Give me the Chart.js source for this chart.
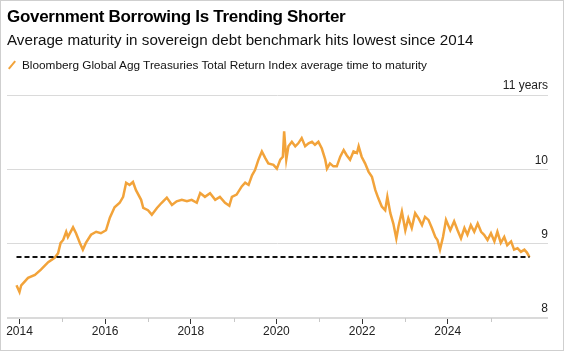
<!DOCTYPE html>
<html>
<head>
<meta charset="utf-8">
<script src="https://cdn.jsdelivr.net/npm/chart.js@4"></script>
<style>
  body { margin: 0; background: #fff; font-family: "Liberation Sans", Arial, sans-serif; }
  #frame { position: absolute; left: 0; top: 0; width: 564px; height: 351px; box-sizing: border-box; border: 1px solid #cfcfcf; pointer-events: none; z-index: 3; }
  #title { position: absolute; left: 7px; top: 7px; font-size: 17px; font-weight: bold; color: #000; letter-spacing: -0.3px; z-index: 2; }
  #subtitle { position: absolute; left: 7px; top: 31px; font-size: 15.2px; color: #111; z-index: 2; }
  #legend { position: absolute; left: 8px; top: 58px; font-size: 11.8px; color: #111; z-index: 2; }
  #legend .swatch { display: inline-block; width: 2px; height: 10px; background: #f2a33a; transform: rotate(40deg); margin: 0 9px 0 3px; vertical-align: -1px; }
  canvas { position: absolute; left: 0; top: 0; }
</style>
</head>
<body>
<div id="frame"></div>
<div id="title">Government Borrowing Is Trending Shorter</div>
<div id="subtitle">Average maturity in sovereign debt benchmark hits lowest since 2014</div>
<div id="legend"><span class="swatch"></span>Bloomberg Global Agg Treasuries Total Return Index average time to maturity</div>
<canvas id="myChart" width="564" height="351"></canvas>
<script>
// decimal year of each reading
const years = [
  2013.93, 2014.00, 2014.04, 2014.20, 2014.36, 2014.50, 2014.67, 2014.82, 2014.90, 2014.96,
  2015.02, 2015.09, 2015.13, 2015.25, 2015.32, 2015.41, 2015.48, 2015.55, 2015.67, 2015.79,
  2015.90, 2016.02, 2016.11, 2016.22, 2016.34, 2016.42, 2016.49, 2016.57, 2016.65, 2016.72,
  2016.84, 2016.89, 2017.00, 2017.09, 2017.21, 2017.32, 2017.44, 2017.56, 2017.67, 2017.79,
  2017.91, 2018.02, 2018.14, 2018.22, 2018.33, 2018.45, 2018.57, 2018.68, 2018.80, 2018.90,
  2018.96, 2019.07, 2019.19, 2019.27, 2019.35, 2019.43, 2019.50, 2019.58, 2019.66, 2019.74,
  2019.81, 2019.93, 2020.01, 2020.09, 2020.15, 2020.18, 2020.23, 2020.28, 2020.36, 2020.44,
  2020.51, 2020.59, 2020.67, 2020.75, 2020.83, 2020.90, 2020.98, 2021.06, 2021.14, 2021.18,
  2021.25, 2021.33, 2021.41, 2021.49, 2021.57, 2021.64, 2021.72, 2021.80, 2021.88, 2021.92,
  2021.99, 2022.07, 2022.15, 2022.23, 2022.31, 2022.38, 2022.46, 2022.54, 2022.59, 2022.66,
  2022.73, 2022.80, 2022.85, 2022.93, 2023.01, 2023.08, 2023.16, 2023.24, 2023.32, 2023.40,
  2023.47, 2023.55, 2023.63, 2023.71, 2023.76, 2023.82, 2023.89, 2023.96, 2024.06, 2024.15,
  2024.23, 2024.31, 2024.39, 2024.46, 2024.54, 2024.62, 2024.70, 2024.78, 2024.85, 2024.93,
  2025.01, 2025.09, 2025.16, 2025.24, 2025.32, 2025.39, 2025.48, 2025.55, 2025.63, 2025.71,
  2025.79, 2025.85, 2025.91
];

// average time to maturity, years
const maturity = [
  8.44, 8.35, 8.44, 8.54, 8.58, 8.65, 8.75, 8.81, 8.87, 9.01,
  9.05, 9.16, 9.09, 9.22, 9.14, 9.01, 8.92, 9.01, 9.12, 9.16,
  9.14, 9.18, 9.35, 9.49, 9.55, 9.63, 9.82, 9.79, 9.83, 9.72,
  9.59, 9.48, 9.45, 9.39, 9.48, 9.55, 9.62, 9.52, 9.57, 9.59,
  9.57, 9.59, 9.55, 9.68, 9.63, 9.68, 9.59, 9.63, 9.55, 9.51,
  9.63, 9.66, 9.77, 9.82, 9.79, 9.92, 9.99, 10.13, 10.24, 10.15,
  10.08, 10.06, 10.01, 10.13, 10.17, 10.51, 10.13, 10.31, 10.37, 10.31,
  10.35, 10.42, 10.31, 10.35, 10.37, 10.33, 10.37, 10.28, 10.13, 10.01,
  10.08, 10.04, 10.04, 10.17, 10.26, 10.19, 10.13, 10.24, 10.22, 10.31,
  10.17, 10.08, 9.97, 9.90, 9.72, 9.61, 9.50, 9.45, 9.63, 9.41,
  9.27, 9.07, 9.23, 9.43, 9.18, 9.34, 9.21, 9.41, 9.34, 9.25,
  9.36, 9.32, 9.21, 9.09, 9.05, 8.92, 9.09, 9.32, 9.18, 9.30,
  9.18, 9.07, 9.21, 9.12, 9.25, 9.16, 9.27, 9.16, 9.12, 9.05,
  9.14, 9.03, 9.16, 9.01, 9.09, 8.98, 9.03, 8.92, 8.94, 8.89,
  8.92, 8.88, 8.82
];

const latestLevel = 8.82;            // dashed reference line
const tickYears = [2014, 2015, 2016, 2017, 2018, 2019, 2020, 2021, 2022, 2023, 2024, 2025];
const yTicks = [8, 9, 10, 11];

const orange = "#f2a33a";
const font = { family: "'Liberation Sans', Arial, sans-serif", size: 12 };

// short grey ticks for the odd years
const minorTicks = {
  id: "minorTicks",
  afterDraw(chart) {
    const c = chart.ctx, x = chart.scales.x, bottom = chart.chartArea.bottom;
    c.save();
    c.strokeStyle = "#c8c8c8";
    c.lineWidth = 1;
    tickYears.filter((y) => y % 2 !== 0).forEach((y) => {
      const px = Math.round(x.getPixelForValue(y)) + 0.5;
      c.beginPath();
      c.moveTo(px, bottom);
      c.lineTo(px, bottom + 4);
      c.stroke();
    });
    c.restore();
  },
};

const ctx = document.getElementById("myChart").getContext("2d");
new Chart(ctx, {
  type: "line",
  data: {
    datasets: [
      {
        data: [
          { x: years[0], y: latestLevel },
          { x: years[years.length - 1], y: latestLevel },
        ],
        borderColor: "#111",
        borderWidth: 2,
        borderDash: [5, 3],
        pointRadius: 0,
      },
      {
        data: years.map((x, i) => ({ x: x, y: maturity[i] })),
        borderColor: orange,
        borderWidth: 2.5,
        pointRadius: 0,
        tension: 0,
      },
    ],
  },
  options: {
    responsive: false,
    animation: false,
    layout: { padding: { left: 7, right: 16, top: 95, bottom: 0 } },
    plugins: { legend: { display: false }, tooltip: { enabled: false } },
    scales: {
      x: {
        type: "linear",
        min: 2013.708,
        max: 2026.342,
        afterBuildTicks: (s) => {
          s.ticks = tickYears.map((v) => ({ value: v }));
        },
        afterFit: (s) => {
          s.height = 33;
        },
        ticks: {
          autoSkip: false,
          maxRotation: 0,
          padding: 0,
          color: "#222",
          font: font,
          callback: (v) => (v % 2 === 0 ? String(v) : ""),
        },
        grid: {
          drawOnChartArea: false,
          drawTicks: true,
          tickLength: 6,
          tickColor: (c) => (c.tick && c.tick.value % 2 === 0 ? "#333" : "rgba(0,0,0,0)"),
        },
        border: { display: false },
      },
      y: {
        position: "right",
        min: 8,
        max: 11,
        afterBuildTicks: (s) => {
          s.ticks = yTicks.map((v) => ({ value: v }));
        },
        ticks: {
          mirror: true,
          padding: 0,
          labelOffset: -9,
          color: "#222",
          font: font,
          callback: (v) => (v === 11 ? "11 years" : String(v)),
        },
        grid: {
          drawTicks: false,
          color: "#dadada",
          lineWidth: (c) => (c.tick && c.tick.value === 8 ? 2 : 1),
        },
        border: { display: false },
      },
    },
  },
  plugins: [minorTicks],
});
</script>
</body>
</html>
